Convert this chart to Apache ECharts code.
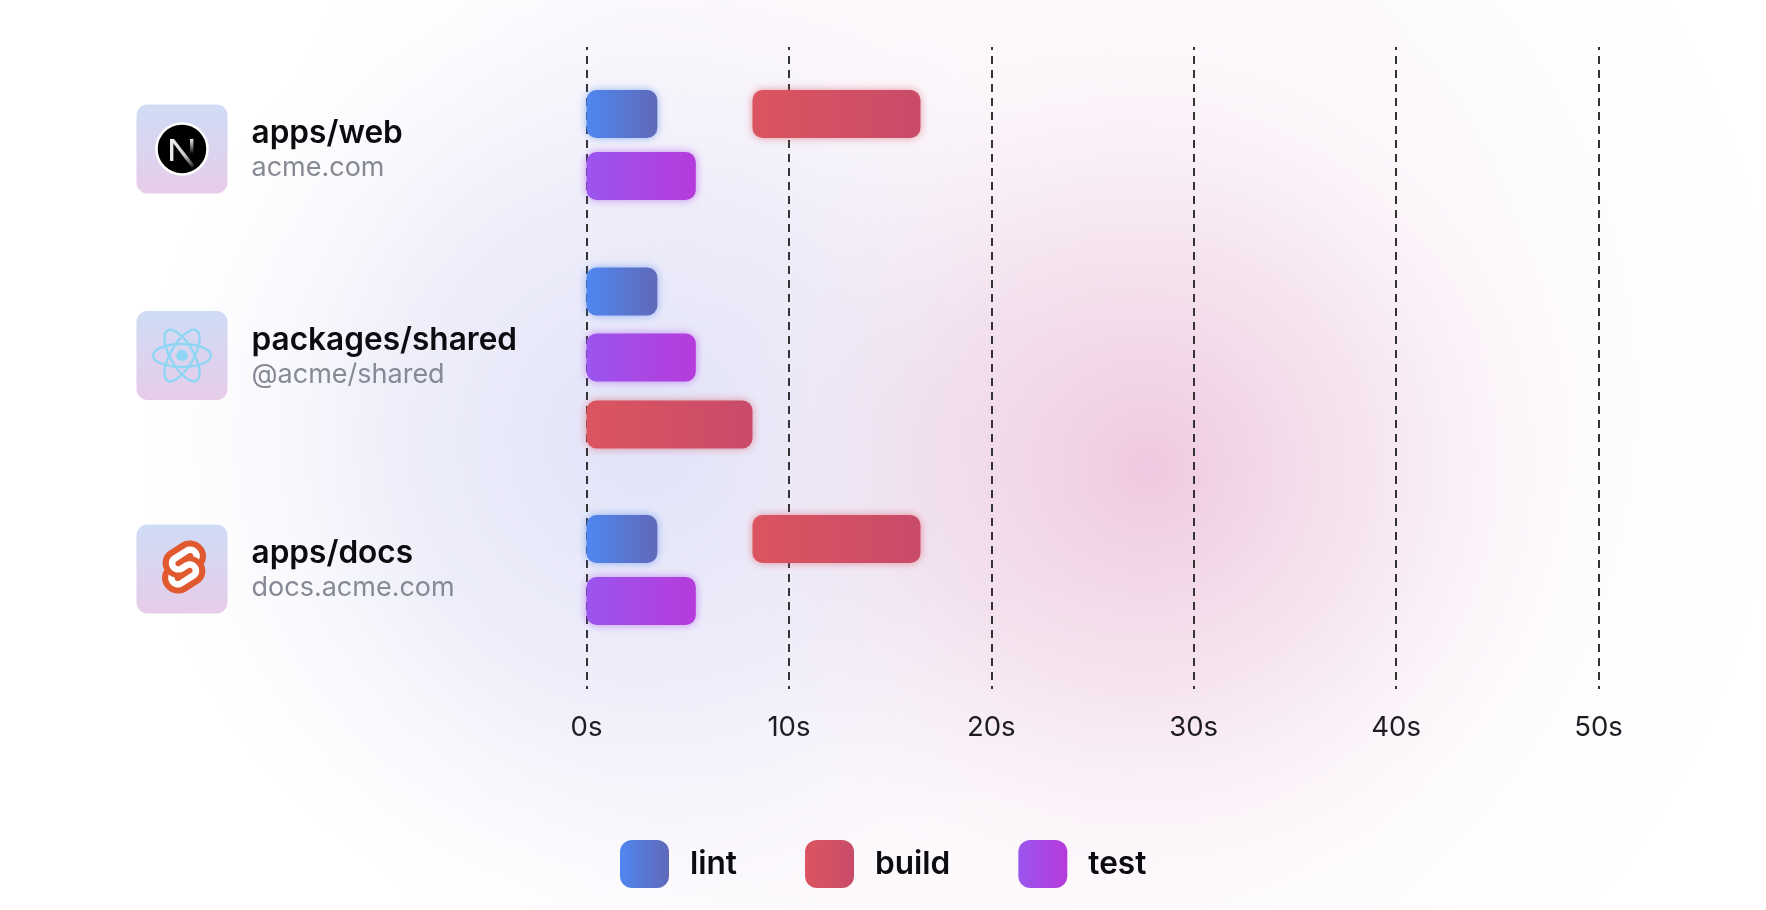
<!DOCTYPE html>
<html>
<head>
<meta charset="utf-8">
<style>
html, body { margin: 0; padding: 0; background: #fff; }
#chart { width: 1766px; height: 910px; }
</style>
<script src="https://cdn.jsdelivr.net/npm/echarts@6/dist/echarts.min.js"></script>
</head>
<body>
<div id="chart"></div>
<script>
// data
let rowNames = ['apps/web', 'packages/shared', 'apps/docs'];
let rowSubs = ['acme.com', '@acme/shared', 'docs.acme.com'];
let taskNames = ['lint', 'build', 'test'];
let xTicks = [0, 10, 20, 30, 40, 50];
let lintStart = [0, 0, 0];
let lintEnd = [3.5, 3.5, 3.5];
let buildStart = [8.2, 0, 8.2];
let buildEnd = [16.5, 8.2, 16.5];
let testStart = [0, 0, 0];
let testEnd = [5.4, 5.4, 5.4];
// which slot inside its row each bar sits in
let lintSlot = [0, 0, 0];
let buildSlot = [0, 2, 0];
let testSlot = [1, 1, 1];

// layout
let slotOffsets = [[-31, 31], [-66, 0, 67], [-31, 31]];
let iconShift = [4, -2, -1];
let FONT = 'Inter, "Noto Sans", sans-serif';

let myChart = echarts.init(document.getElementById('chart'));

function grad(a, b) {
	return new echarts.graphic.LinearGradient(0, 0, 1, 0, [
		{ offset: 0, color: a },
		{ offset: 1, color: b }
	]);
}

let taskStyle = {
	lint: { color: grad('#4f87f0', '#6069b8'), shadowBlur: 9, shadowColor: 'rgba(79,135,240,0.6)' },
	build: { color: grad('#da5560', '#c94b69'), shadowBlur: 9, shadowColor: 'rgba(218,85,96,0.6)' },
	test: { color: grad('#9b55ee', '#b53bdb'), shadowBlur: 9, shadowColor: 'rgba(165,75,235,0.6)' }
};

function barSeries(name, starts, ends, slots) {
	let st = taskStyle[name];
	return {
		name: name,
		type: 'custom',
		silent: true,
		z: 5,
		clip: false,
		itemStyle: st,
		encode: { x: [0, 1], y: 2 },
		data: rowNames.map(function(r, i) {
			return [starts[i], ends[i], i, slots[i]];
		}),
		renderItem: function(params, api) {
			let row = api.value(2);
			let a = api.coord([api.value(0), row]);
			let b = api.coord([api.value(1), row]);
			let h = 48;
			let cy = a[1] + slotOffsets[row][api.value(3)];
			return {
				type: 'rect',
				shape: { x: a[0], y: cy - h / 2, width: b[0] - a[0], height: h, r: 10 },
				style: { fill: st.color, shadowBlur: st.shadowBlur, shadowColor: st.shadowColor }
			};
		}
	};
}

// the three logos, drawn around 0,0
function iconNext() {
	return [
		{ type: 'circle', shape: { cx: 0, cy: 0, r: 25.5 }, style: { fill: '#000', stroke: '#fff', lineWidth: 2.5 } },
		{ type: 'rect', shape: { x: -12, y: -10, width: 3.4, height: 22 }, style: { fill: '#e8e8e8' } },
		{
			type: 'polygon',
			shape: { points: [[-12, -10], [-8, -10], [13, 17], [10, 19]] },
			style: {
				fill: new echarts.graphic.LinearGradient(0, 0, 1, 1, [
					{ offset: 0, color: '#f2f2f2' },
					{ offset: 0.55, color: '#ccc' },
					{ offset: 1, color: 'rgba(255,255,255,0)' }
				])
			}
		},
		{
			type: 'rect',
			shape: { x: 8, y: -10, width: 3.4, height: 15 },
			style: {
				fill: new echarts.graphic.LinearGradient(0, 0, 0, 1, [
					{ offset: 0, color: '#eee' },
					{ offset: 1, color: 'rgba(255,255,255,0)' }
				])
			}
		}
	];
}

function iconReact() {
	let c = '#8fd6f4';
	let els = [{ type: 'circle', shape: { cx: 0, cy: 0, r: 5.8 }, style: { fill: c } }];
	[0, Math.PI / 3, -Math.PI / 3].forEach(function(rot) {
		els.push({
			type: 'ellipse',
			rotation: rot,
			shape: { cx: 0, cy: 0, rx: 29, ry: 11.5 },
			style: { fill: 'none', stroke: c, lineWidth: 2.4 }
		});
	});
	return els;
}

let svelteOuter = 'M91.8 15.6C80.9-.1 59.2-4.7 43.6 5.2L16.1 22.8C8.6 27.5 3.4 35.2 1.9 43.9c-1.3 7.3-.2 14.8 3.3 21.3-2.4 3.6-4 7.6-4.7 11.8-1.6 8.9.5 18.1 5.7 25.4 11 15.7 32.6 20.3 48.2 10.4l27.5-17.5c7.5-4.7 12.7-12.4 14.2-21.1 1.3-7.3.2-14.8-3.3-21.3 2.4-3.6 4-7.6 4.7-11.8 1.7-9-.4-18.2-5.7-25.5z';
let svelteInner = 'M40.9 103.9c-8.9 2.3-18.2-1.2-23.4-8.7-3.2-4.4-4.4-9.9-3.5-15.3.2-.9.4-1.7.6-2.6l.5-1.6 1.4 1c3.3 2.4 6.9 4.2 10.8 5.4l1 .3-.1 1c-.1 1.4.3 2.9 1.1 4.1 1.6 2.3 4.4 3.4 7.1 2.7.6-.2 1.2-.4 1.7-.7L65.5 72c1.4-.9 2.3-2.2 2.6-3.8.3-1.6-.1-3.3-1-4.6-1.6-2.3-4.4-3.3-7.1-2.6-.6.2-1.2.4-1.7.7l-10.5 6.7c-1.7 1.1-3.6 1.9-5.6 2.4-8.9 2.3-18.2-1.2-23.4-8.7-3.1-4.4-4.4-9.9-3.4-15.3.9-5.2 4.1-9.9 8.6-12.7l27.5-17.5c1.7-1.1 3.6-1.9 5.6-2.5 8.9-2.3 18.2 1.2 23.4 8.7 3.2 4.4 4.4 9.9 3.5 15.3-.2.9-.4 1.7-.7 2.6l-.5 1.6-1.4-1c-3.3-2.4-6.9-4.2-10.8-5.4l-1-.3.1-1c.1-1.4-.3-2.9-1.1-4.1-1.6-2.3-4.4-3.3-7.1-2.6-.6.2-1.2.4-1.7.7L32.4 46.1c-1.4.9-2.3 2.2-2.6 3.8s.1 3.3 1 4.6c1.6 2.3 4.4 3.3 7.1 2.6.6-.2 1.2-.4 1.7-.7l10.5-6.7c1.7-1.1 3.6-1.9 5.6-2.5 8.9-2.3 18.2 1.2 23.4 8.7 3.2 4.4 4.4 9.9 3.5 15.3-.9 5.2-4.1 9.9-8.6 12.7l-27.5 17.5c-1.7 1.1-3.6 1.9-5.6 2.5z';

// keeps both parts of the logo on the same scale
function sveltePart(pathData, fill) {
	let k = 0.449;
	let r = echarts.graphic.makePath(pathData, {}).getBoundingRect();
	return {
		type: 'path',
		shape: {
			pathData: pathData,
			layout: 'cover',
			x: r.x * k - 20,
			y: r.y * k - 28.5,
			width: r.width * k,
			height: r.height * k
		},
		style: { fill: fill }
	};
}

function iconSvelte() {
	return [sveltePart(svelteOuter, '#e0592f'), sveltePart(svelteInner, '#fff')];
}

let iconFns = [iconNext, iconReact, iconSvelte];

// row header: tile, logo, name and package
let rowSeries = {
	type: 'custom',
	silent: true,
	clip: false,
	z: 4,
	encode: { x: 0, y: 1 },
	data: rowNames.map(function(r, i) {
		return [0, i];
	}),
	renderItem: function(params, api) {
		let row = api.value(1);
		let p = api.coord([0, row]);
		let cy = p[1] + iconShift[row];
		let left = p[0] - 450;
		let tile = {
			type: 'rect',
			shape: { x: left, y: cy - 44.5, width: 91, height: 89, r: 11 },
			style: {
				fill: new echarts.graphic.LinearGradient(0, 0, 0, 1, [
					{ offset: 0, color: '#cfdcf5' },
					{ offset: 1, color: '#e7cce9' }
				])
			}
		};
		let logo = { type: 'group', x: left + 45.5, y: cy, children: iconFns[row]() };
		let name = {
			type: 'text',
			x: left + 115,
			y: cy - 15,
			style: { text: rowNames[row], fill: '#0b0b10', font: '600 31.6px ' + FONT, verticalAlign: 'middle' }
		};
		let sub = {
			type: 'text',
			x: left + 115,
			y: cy + 19,
			style: { text: rowSubs[row], fill: '#868a94', font: '400 27px ' + FONT, verticalAlign: 'middle' }
		};
		return { type: 'group', children: [tile, logo, name, sub] };
	}
};

let blobWash = new echarts.graphic.RadialGradient(1000, 400, 780, [
	{ offset: 0, color: 'rgba(245,228,240,0.45)' },
	{ offset: 0.7, color: 'rgba(248,238,246,0.3)' },
	{ offset: 1, color: 'rgba(252,248,252,0)' }
], true);
let blobPink = new echarts.graphic.RadialGradient(1148, 468, 440, [
	{ offset: 0, color: 'rgba(238,196,222,0.9)' },
	{ offset: 0.5, color: 'rgba(240,212,230,0.55)' },
	{ offset: 1, color: 'rgba(250,235,245,0)' }
], true);
let blobBlue = new echarts.graphic.RadialGradient(640, 440, 500, [
	{ offset: 0, color: 'rgba(214,218,247,0.72)' },
	{ offset: 0.5, color: 'rgba(224,226,248,0.5)' },
	{ offset: 1, color: 'rgba(240,240,252,0)' }
], true);

function bgRect(z, fill) {
	return { type: 'rect', z: z, silent: true, shape: { x: 0, y: 0, width: 1766, height: 910 }, style: { fill: fill } };
}

let option = {
	animation: false,
	backgroundColor: '#fff',
	textStyle: { fontFamily: FONT },
	graphic: [
		bgRect(-21, blobWash),
		bgRect(-20, blobBlue),
		bgRect(-19, blobPink)
	],
	grid: { left: 586.5, top: 47, width: 1012, height: 642 },
	xAxis: {
		type: 'value',
		min: xTicks[0],
		max: xTicks[xTicks.length - 1],
		interval: 10,
		axisLine: { show: false },
		axisTick: { show: false },
		axisLabel: {
			formatter: '{value}s',
			color: '#1c1c22',
			fontFamily: FONT,
			fontSize: 27.5,
			margin: 25
		},
		splitLine: {
			show: true,
			lineStyle: { color: '#333', width: 2, type: [8, 6], dashOffset: 5 }
		}
	},
	yAxis: {
		type: 'value',
		show: false,
		inverse: true,
		min: -0.461,
		max: 2.56,
		splitLine: { show: false }
	},
	legend: {
		left: 620,
		top: 840,
		padding: 0,
		itemWidth: 49,
		itemHeight: 48,
		itemGap: 68,
		data: taskNames,
		selectedMode: false,
		textStyle: { color: '#0b0b10', fontFamily: FONT, fontSize: 31.6, fontWeight: 600, padding: [5, 0, 0, 16] }
	},
	series: [
		rowSeries,
		barSeries('lint', lintStart, lintEnd, lintSlot),
		barSeries('build', buildStart, buildEnd, buildSlot),
		barSeries('test', testStart, testEnd, testSlot)
	]
};

myChart.setOption(option);
</script>
</body>
</html>
